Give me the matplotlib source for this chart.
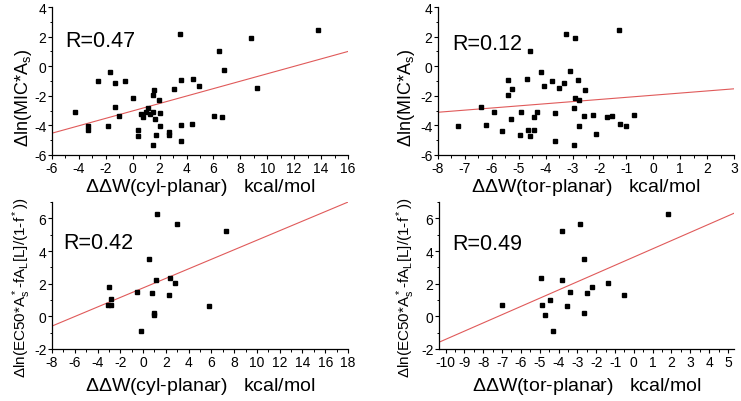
import matplotlib
matplotlib.use('Agg')
import matplotlib.pyplot as plt
from matplotlib.ticker import MultipleLocator
import numpy as np

plt.rcParams['font.family'] = ['Liberation Sans', 'DejaVu Sans']
plt.rcParams['mathtext.default'] = 'regular'
plt.rcParams['axes.unicode_minus'] = False

# ---------------- data ----------------
# top: ln(MIC*As) vs dW, cylinder and toroid
cylMIC_x = [-4.27, -3.32, -3.32, -2.58, -1.84, -1.66, -1.34, -1.34, -1.00, -0.60,
            0.00, 0.37, 0.42, 0.62, 0.74, 0.99, 1.14, 1.31, 1.51, 1.56,
            1.48, 1.68, 1.76, 1.48, 1.93, 2.05, 2.05, 2.67, 2.67, 3.09,
            3.49, 3.61, 3.61, 3.61, 4.48, 4.43, 4.95, 6.07, 6.39, 6.61,
            6.76, 8.77, 9.24, 13.75]
cylMIC_y = [-3.11, -4.01, -4.31, -0.97, -4.01, -0.36, -1.15, -2.73, -3.34, -0.97,
            -2.16, -4.31, -4.69, -3.22, -3.40, -3.07, -2.84, -3.22, -3.11, -1.58,
            -1.94, -3.56, -4.65, -5.32, -2.25, -3.18, -4.06, -4.42, -4.62, -1.53,
            2.17, -0.92, -3.97, -5.07, -0.88, -3.92, -1.35, -3.38, 1.02, -3.45,
            -0.29, 1.90, -1.44, 2.46]

torMIC_x = [-7.24, -6.40, -6.23, -5.93, -5.62, -5.40, -5.40, -5.24, -5.29, -4.95,
            -4.90, -4.69, -4.64, -4.58, -4.59, -4.43, -4.42, -4.32, -4.17, -4.06,
            -3.76, -3.64, -3.65, -3.50, -3.33, -3.26, -3.08, -2.95, -2.93, -2.91,
            -2.90, -2.80, -2.77, -2.76, -2.54, -2.56, -2.23, -2.13, -1.73, -1.53,
            -1.29, -1.23, -1.03, -0.72]
torMIC_y = [-4.04, -2.75, -3.97, -3.11, -4.40, -0.94, -1.94, -1.51, -3.54, -4.65,
            -3.09, -0.88, -4.33, -4.71, 1.00, -3.45, -4.33, -3.11, -0.38, -1.35,
            -0.97, -3.18, -5.05, -1.44, -1.15, 2.17, -0.31, -2.84, -5.32, 1.90,
            -2.14, -0.94, -2.30, -4.06, -1.60, -3.36, -3.27, -4.60, -3.43, -3.36,
            2.46, -3.90, -4.01, -3.27]

# bottom: ln(EC50...) vs dW
cylEC_x = [-3.01, -3.10, -2.84, -2.78, -0.55, -0.17, 0.51, 0.80, 0.92, 0.92,
           1.13, 1.21, 2.35, 2.30, 2.80, 2.97, 5.76, 7.26]
cylEC_y = [1.77, 0.69, 1.05, 0.69, 1.46, -0.90, 3.48, 1.40, 0.22, 0.10,
           2.21, 6.26, 2.36, 1.28, 2.05, 5.63, 0.61, 5.23]

torEC_x = [-6.99, -4.92, -4.87, -4.71, -4.47, -4.30, -3.82, -3.82, -3.55, -3.39,
           -2.88, -2.67, -2.65, -2.49, -2.23, -1.39, -0.54, 1.83]
torEC_y = [0.71, 2.34, 0.69, 0.08, 1.03, -0.88, 5.25, 2.23, 0.61, 1.46,
           5.65, 3.48, 0.20, 1.40, 1.77, 2.07, 1.28, 6.26]

# linear fits (slope, intercept) and R values
fits = [(0.251, -3.02), (0.144, -1.96), (0.292, 1.74), (0.504, 3.63)]
Rvals = ['R=0.47', 'R=0.12', 'R=0.42', 'R=0.49']

xlabels = [r'$\Delta\Delta$W(cyl-planar)   kcal/mol', r'$\Delta\Delta$W(tor-planar)   kcal/mol',
           r'$\Delta\Delta$W(cyl-planar)   kcal/mol', r'$\Delta\Delta$W(tor-planar)   kcal/mol']
ylab_mic = r'$\Delta$ln(MIC*A$_s$)'
ylab_ec = r'$\Delta$ln(EC50*A$_s^*$-fA$_L$[L]/(1-f$^*$))'

# ---------------- figure ----------------
W, H = 741, 402
fig = plt.figure(figsize=(W / 100, H / 100), dpi=100)


def px_axes(l, r, t, b):
    return fig.add_axes([l / W, (H - b) / H, (r - l) / W, (b - t) / H])


panels = [
    dict(box=(52, 348, 8, 156), x=cylMIC_x, y=cylMIC_y, xlim=(-6, 16), ylim=(-6, 4),
         xmaj=2, ymaj=2, ylab=ylab_mic, ylfs=13, rpos=(0.044, 0.735),
         ylx=-0.062, yly=0.39, xlpad=1),
    dict(box=(438, 734, 8, 156), x=torMIC_x, y=torMIC_y, xlim=(-8, 3), ylim=(-6, 4),
         xmaj=1, ymaj=2, ylab=ylab_mic, ylfs=13, rpos=(0.047, 0.715),
         ylx=-0.072, yly=0.39, xlpad=1),
    dict(box=(52, 348, 203, 350), x=cylEC_x, y=cylEC_y, xlim=(-8, 18), ylim=(-2, 7),
         xmaj=2, ymaj=2, ylab=ylab_ec, ylfs=11, rpos=(0.037, 0.69),
         ylx=-0.064, yly=0.42, xlpad=4.5),
    dict(box=(439, 734, 203, 350), x=torEC_x, y=torEC_y, xlim=(-10.35, 5.32), ylim=(-2, 7),
         xmaj=1, ymaj=2, ylab=ylab_ec, ylfs=11, rpos=(0.044, 0.68),
         ylx=-0.076, yly=0.42, xlpad=4.5),
]

for i, p in enumerate(panels):
    ax = px_axes(*p['box'])
    ax.plot(p['x'], p['y'], 's', color='black', markersize=3.3, zorder=3)
    slope, icpt = fits[i]
    xl = np.array(p['xlim'])
    ax.plot(xl, icpt + slope * xl, color='#e05a5a', lw=0.8, zorder=2)
    ax.set_xlim(*p['xlim'])
    ax.set_ylim(*p['ylim'])
    ax.spines['top'].set_visible(False)
    ax.spines['right'].set_visible(False)
    ax.spines['left'].set_linewidth(0.9)
    ax.spines['bottom'].set_linewidth(0.9)
    ax.xaxis.set_major_locator(MultipleLocator(p['xmaj']))
    ax.yaxis.set_major_locator(MultipleLocator(p['ymaj']))
    ax.xaxis.set_minor_locator(MultipleLocator(p['xmaj'] / 2))
    ax.yaxis.set_minor_locator(MultipleLocator(p['ymaj'] / 2))
    ax.tick_params(which='major', length=3, width=0.8, labelsize=10, pad=1)
    ax.tick_params(which='minor', length=1.8, width=0.7)
    ax.set_xlabel(xlabels[i], fontsize=14, labelpad=p['xlpad'])
    ax.set_ylabel(p['ylab'], fontsize=p['ylfs'])
    ax.yaxis.set_label_coords(p['ylx'], p['yly'])
    ax.text(p['rpos'][0], p['rpos'][1], Rvals[i], transform=ax.transAxes,
            fontsize=15.5, ha='left', va='baseline')

fig.savefig('out.png', dpi=100)
